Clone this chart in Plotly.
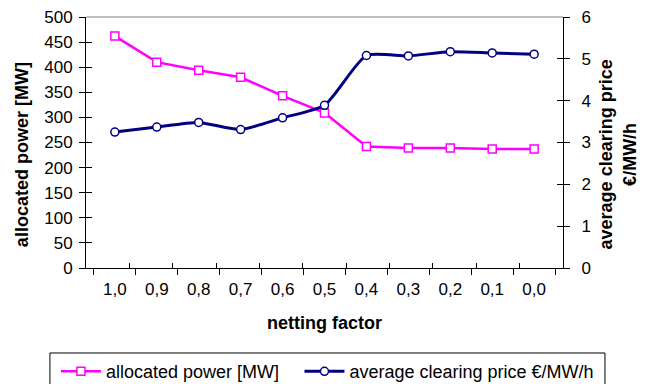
import plotly.graph_objects as go

netting = ["1,0", "0,9", "0,8", "0,7", "0,6", "0,5", "0,4", "0,3", "0,2", "0,1", "0,0"]
allocated_power = [462, 410, 394, 380, 343, 309, 242, 239, 239, 237, 237]
clearing_price = [3.25, 3.37, 3.48, 3.31, 3.59, 3.89, 5.08, 5.07, 5.17, 5.14, 5.11]

FONT = "Liberation Sans, Arial, sans-serif"
TICK = 17
TITLE = 18

n = len(netting)
idx = list(range(n))
boundaries = [i - 0.5 for i in range(n + 1)]

fig = go.Figure()
fig.add_trace(go.Scatter(
    x=netting, y=allocated_power, name="allocated power [MW]",
    mode="lines+markers", legend="legend",
    line=dict(color="#FF00FF", width=2.5),
    marker=dict(symbol="square", size=8, color="white",
                line=dict(color="#FF00FF", width=1.5)),
))
fig.add_trace(go.Scatter(
    x=netting, y=clearing_price, name="average clearing price €/MW/h",
    mode="lines+markers", yaxis="y2", legend="legend2",
    line=dict(color="#000080", width=3, shape="spline", smoothing=0.6),
    marker=dict(symbol="circle", size=8, color="white",
                line=dict(color="#000080", width=1.5)),
))
# invisible helpers so the overlay axes (inner half of the crossing ticks) get drawn
fig.add_trace(go.Scatter(x=idx, y=allocated_power, xaxis="x2", yaxis="y3",
                         mode="none", showlegend=False, hoverinfo="skip"))
fig.add_trace(go.Scatter(x=idx, y=clearing_price, xaxis="x2", yaxis="y4",
                         mode="none", showlegend=False, hoverinfo="skip"))

common = dict(showgrid=False, zeroline=False, automargin=False)
legend_common = dict(
    orientation="h", xanchor="left", y=-0.339, yanchor="top",
    borderwidth=0, font=dict(size=TITLE), itemwidth=40,
    bgcolor="rgba(0,0,0,0)",
)

fig.update_layout(
    width=647, height=384,
    margin=dict(l=86, r=84, t=17, b=116, autoexpand=False),
    paper_bgcolor="white", plot_bgcolor="white",
    font=dict(family=FONT, size=TICK, color="black"),
    showlegend=True,
    legend=dict(x=-0.063, **legend_common),
    legend2=dict(x=0.4475, **legend_common),
    xaxis=dict(
        type="category", showline=True, linecolor="black", linewidth=1,
        ticks="outside", ticklen=6, tickcolor="black", tickson="boundaries",
        tickfont=dict(size=TICK), ticklabelstandoff=6, **common,
    ),
    xaxis2=dict(
        overlaying="x", anchor="y", range=[-0.5, n - 0.5], tickvals=boundaries,
        showticklabels=False, ticks="inside", ticklen=5, tickcolor="black",
        showline=False, **common,
    ),
    yaxis=dict(
        range=[0, 500], dtick=50, showline=True, linecolor="black", linewidth=1,
        ticks="outside", ticklen=6, tickcolor="black",
        tickfont=dict(size=TICK), ticklabelstandoff=3, **common,
    ),
    yaxis2=dict(
        range=[0, 6], dtick=1, overlaying="y", side="right",
        showline=True, linecolor="black", linewidth=1,
        ticks="outside", ticklen=6, tickcolor="black",
        tickfont=dict(size=TICK), ticklabelstandoff=8, **common,
    ),
    yaxis3=dict(
        range=[0, 500], dtick=50, overlaying="y", side="left", anchor="x2",
        showticklabels=False, ticks="inside", ticklen=6, tickcolor="black",
        showline=False, **common,
    ),
    yaxis4=dict(
        range=[0, 6], dtick=1, overlaying="y", side="right", anchor="x2",
        showticklabels=False, ticks="inside", ticklen=6, tickcolor="black",
        showline=False, **common,
    ),
    shapes=[
        dict(type="line", xref="paper", yref="paper", x0=0, x1=1, y0=1, y1=1,
             line=dict(color="#808080", width=1)),
        # legend frame (bottom edge falls outside the canvas as in the reference)
        dict(type="rect", xref="paper", yref="paper",
             x0=-0.0756, x1=1.088, y0=-0.3386, y1=-0.5,
             line=dict(color="black", width=1), fillcolor="rgba(0,0,0,0)"),
    ],
    annotations=[
        dict(text="<b>netting factor</b>", xref="paper", yref="paper",
             x=0.5, y=-0.219, showarrow=False, xanchor="center", yanchor="middle",
             font=dict(size=TITLE)),
        dict(text="<b>allocated power [MW]</b>", xref="paper", yref="paper",
             x=-0.134, y=0.45, textangle=-90, showarrow=False,
             xanchor="center", yanchor="middle", font=dict(size=TITLE)),
        dict(text="<b>average clearing price<br>€/MW/h</b>", xref="paper", yref="paper",
             x=1.114, y=0.454, textangle=-90, showarrow=False,
             xanchor="center", yanchor="middle", font=dict(size=TITLE)),
    ],
)

fig.write_html("out.html")
